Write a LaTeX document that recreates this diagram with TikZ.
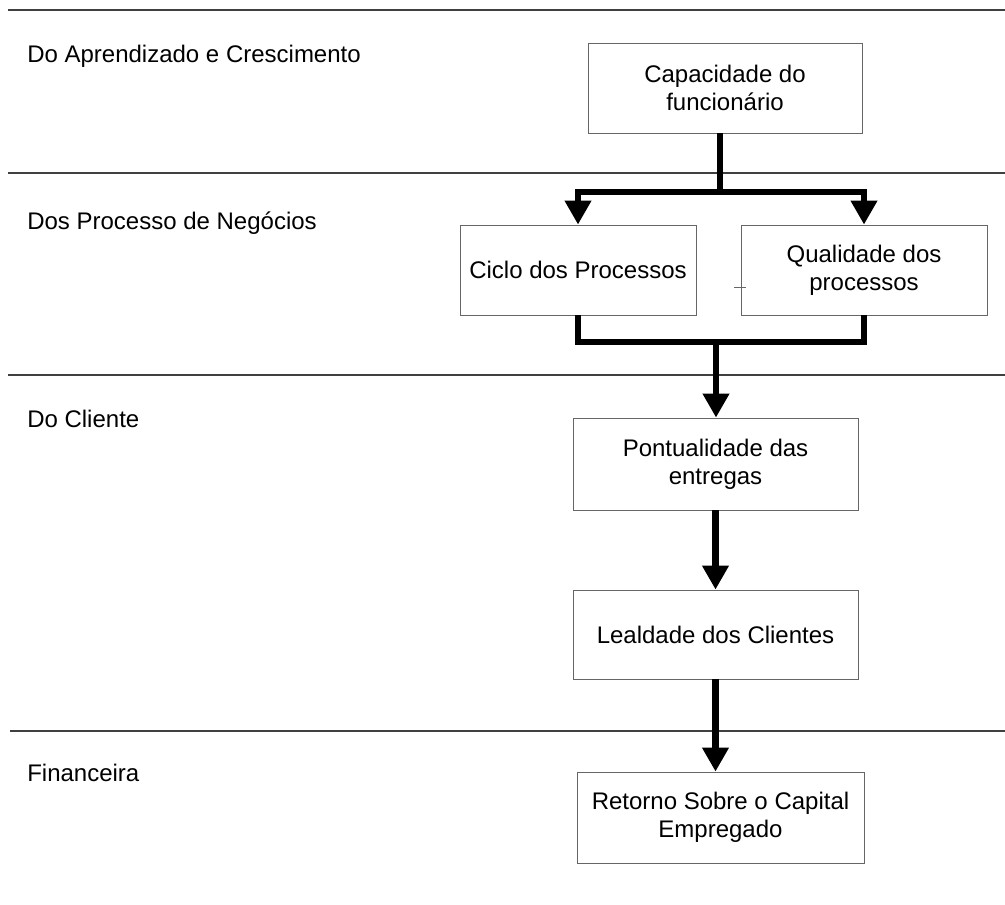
\documentclass[tikz,border=0pt]{standalone}
\usepackage{fontspec}
\setmainfont{Liberation Sans}
\usetikzlibrary{arrows.meta,calc}

\tikzset{
  px/.style={x=0.75pt,y=-0.75pt},
  lane/.style={line width=0.8pt,draw=black!75},
  stage/.style={draw=black!60,line width=0.6pt,rectangle,inner sep=0pt,
    align=center,font=\fontsize{18pt}{21pt}\selectfont},
  lanelabel/.style={anchor=base west,inner sep=0pt,font=\fontsize{18pt}{21pt}\selectfont},
  link/.style={line width=4.6pt,line join=miter},
  flow/.style={link,-{Triangle[width=19pt,length=18pt]}},
}

\begin{document}
\begin{tikzpicture}[px]
\useasboundingbox (0,0) rectangle (1005,905);

% lane separators
\draw[lane] (8,10) -- (1005,10);
\draw[lane] (8,173) -- (1005,173);
\draw[lane] (8,375) -- (1005,375);
\draw[lane] (10,731) -- (1005,731);

% lane titles
\node[lanelabel] (l1) at (27,63) {Do Aprendizado e Crescimento};
\node[lanelabel] (l2) at (27,230) {Dos Processo de Negócios};
\node[lanelabel] (l3) at (27,427) {Do Cliente};
\node[lanelabel] (l4) at (27,781) {Financeira};

% stages
\node[stage,minimum width=205.5pt,minimum height=67.5pt] (cap) at (725,88)
  {Capacidade do\\funcionário};
\node[stage,minimum width=177pt,minimum height=67.5pt] (ciclo) at (578,270)
  {Ciclo dos Processos};
\node[stage,minimum width=184.5pt,minimum height=67.5pt] (qual) at (864,270)
  {Qualidade dos\\processos};
\node[stage,minimum width=213.75pt,minimum height=69pt] (pont) at (715.5,464)
  {Pontualidade das\\entregas};
\node[stage,minimum width=213.75pt,minimum height=66.75pt] (leal) at (715.5,634.5)
  {Lealdade dos Clientes};
\node[stage,minimum width=215.25pt,minimum height=68.25pt] (ret) at (720.5,817.5)
  {Retorno Sobre o Capital\\Empregado};

% small mark beside the quality box
\draw[black!60,line width=0.5pt] (734,287) -- (746,287);

% connectors
\coordinate (split) at (720,192);
\coordinate (merge) at (716,342);
\draw[link] (cap.south -| split) -- (split);
\draw[flow] (split) -| (ciclo.north);
\draw[flow] (split) -| (qual.north);
\draw[link] (ciclo.south) |- (merge);
\draw[link] (qual.south) |- (merge);
\draw[flow] (merge) -- (merge |- pont.north);
\draw[flow] (pont.south) -- (leal.north);
\draw[flow] (leal.south) -- (leal.south |- ret.north);
\end{tikzpicture}
\end{document}
